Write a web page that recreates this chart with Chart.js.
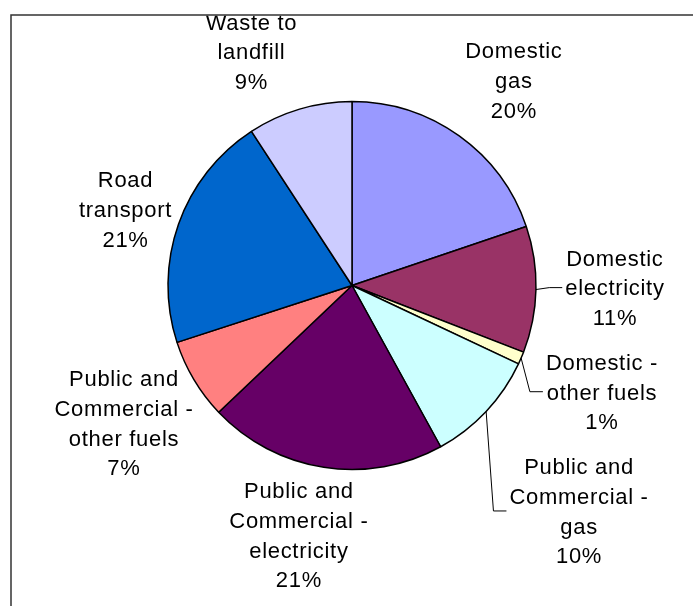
<!DOCTYPE html>
<html><head><meta charset="utf-8">
<script src="https://cdn.jsdelivr.net/npm/chart.js@4"></script>
<style>html,body{margin:0;padding:0;background:#fff;overflow:hidden}#wrap{width:693px;height:606px;position:relative}</style>
</head><body><div id="wrap"><canvas id="c" width="693" height="606"></canvas></div>
<script>
// ---- data ----
const categories = ["Domestic gas", "Domestic electricity", "Domestic - other fuels", "Public and Commercial - gas", "Public and Commercial - electricity", "Public and Commercial - other fuels", "Road transport", "Waste to landfill"];
const labelLines = [["Domestic", "gas"], ["Domestic", "electricity"], ["Domestic -", "other fuels"], ["Public and", "Commercial -", "gas"], ["Public and", "Commercial -", "electricity"], ["Public and", "Commercial -", "other fuels"], ["Road", "transport"], ["Waste to", "landfill"]];
const shares = [19.8, 11.1, 1.1, 10.0, 20.9, 7.1, 20.8, 9.2];

// ---- style / layout ----
const colors = ["#9999FF", "#993366", "#FFFFCC", "#CCFFFF", "#660066", "#FF8080", "#0066CC", "#CCCCFF"];
// label placement relative to each slice: distance (x radius) and angle nudge (degrees)
const labelDist = [1.421, 1.429, 1.476, 1.739, 1.386, 1.447, 1.299, 1.384];
const labelNudge = [2.6, -0.8, -0.2, 1.6, 3.2, -0.3, -0.8, -6.7];
const hasLeader = [false, true, true, true, false, false, false, false];
const FONT_SIZE = 22, LINE_H = 29.6;

const framePlugin = {
  id: 'frame',
  beforeDraw(chart) {
    const ctx = chart.ctx;
    ctx.save();
    ctx.fillStyle = '#fff';
    ctx.fillRect(0, 0, chart.width, chart.height);
    ctx.strokeStyle = '#333';
    ctx.lineWidth = 1.5;
    ctx.beginPath();
    ctx.moveTo(11, chart.height + 5);
    ctx.lineTo(11, 15);
    ctx.lineTo(chart.width + 5, 15);
    ctx.stroke();
    ctx.restore();
  }
};

const labelPlugin = {
  id: 'pieLabels',
  afterDatasetsDraw(chart) {
    const ctx = chart.ctx;
    const meta = chart.getDatasetMeta(0);
    const data = chart.data.datasets[0].data;
    const total = data.reduce((a, b) => a + b, 0);
    ctx.save();
    ctx.beginPath();
    ctx.rect(11.8, 15.8, chart.width, chart.height);
    ctx.clip();
    ctx.font = FONT_SIZE + 'px "Liberation Sans", Arial, sans-serif';
    try { ctx.letterSpacing = '0.7px'; } catch (e) {}
    ctx.fillStyle = '#000';
    ctx.textAlign = 'center';
    ctx.textBaseline = 'alphabetic';
    meta.data.forEach((el, i) => {
      const mid = (el.startAngle + el.endAngle) / 2;
      const r = el.outerRadius;
      const a = mid + labelNudge[i] * Math.PI / 180;
      const cx = el.x + labelDist[i] * r * Math.cos(a);
      const cy = el.y + labelDist[i] * r * Math.sin(a);
      const lines = labelLines[i].concat([Math.round(data[i] / total * 100) + '%']);
      const n = lines.length;
      let w = 0;
      lines.forEach(t => { w = Math.max(w, ctx.measureText(t).width); });
      lines.forEach((t, j) => {
        const capCenter = cy + (j - (n - 1) / 2) * LINE_H;
        ctx.fillText(t, cx, capCenter + 0.358 * FONT_SIZE);
      });
      if (hasLeader[i]) {
        const sx = el.x + r * Math.cos(mid), sy = el.y + r * Math.sin(mid);
        const ex = cx - w / 2 - 3, ey = cy;
        ctx.strokeStyle = '#000';
        ctx.lineWidth = 1;
        ctx.beginPath();
        ctx.moveTo(sx, sy);
        ctx.lineTo(ex - 13, ey);
        ctx.lineTo(ex, ey);
        ctx.stroke();
      }
    });
    ctx.restore();
  }
};

new Chart(document.getElementById('c'), {
  type: 'pie',
  data: {
    labels: categories,
    datasets: [{
      data: shares,
      backgroundColor: colors,
      borderColor: '#000',
      borderWidth: 1.5,
      radius: 184
    }]
  },
  options: {
    responsive: false,
    animation: false,
    layout: { padding: { left: 11, right: 0, top: 0, bottom: 35 } },
    plugins: { legend: { display: false }, tooltip: { enabled: false } }
  },
  plugins: [framePlugin, labelPlugin]
});
</script>
</body></html>
